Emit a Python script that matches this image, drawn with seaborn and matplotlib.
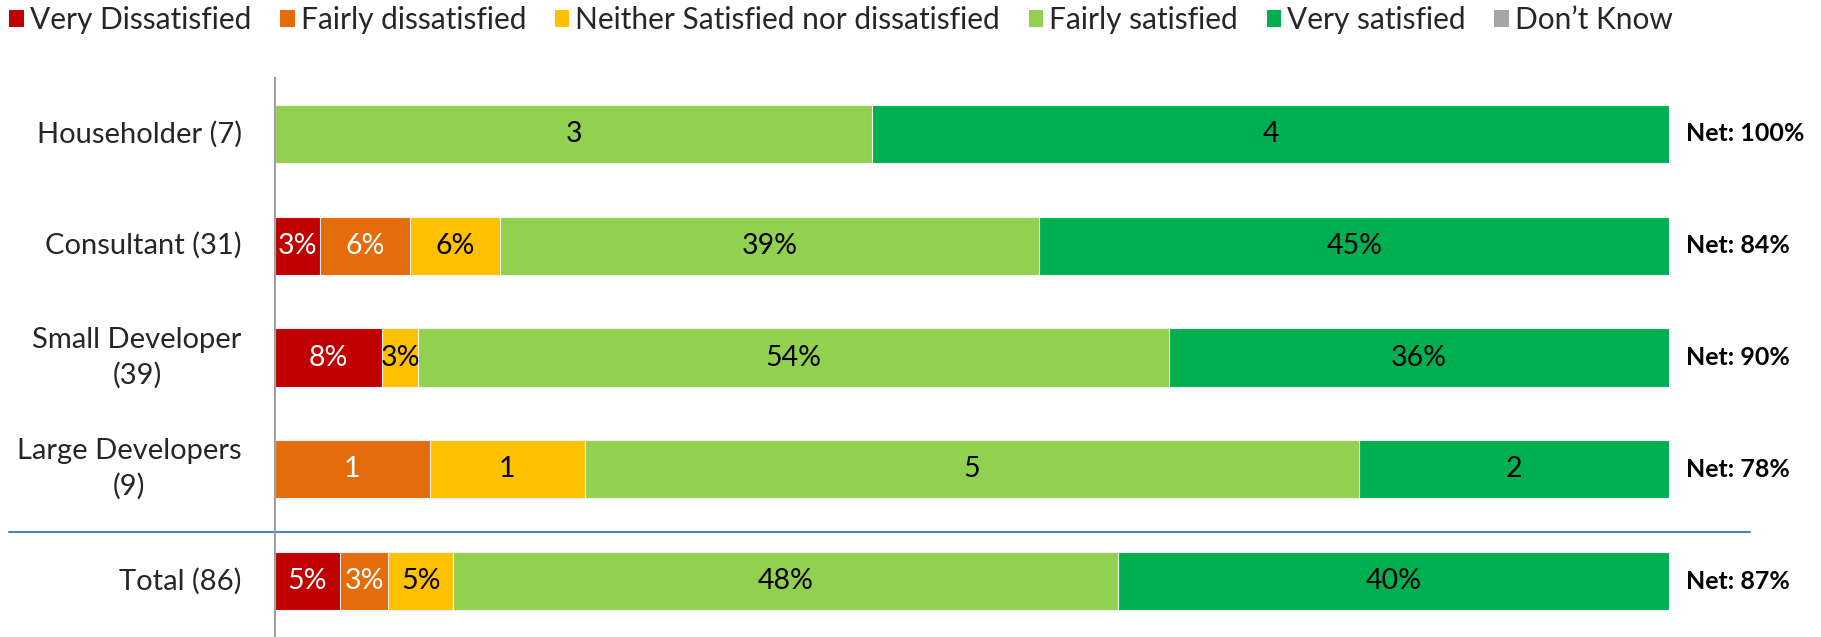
import numpy as np
import pandas as pd
import matplotlib
matplotlib.use("Agg")
import matplotlib.pyplot as plt
from matplotlib.patches import Patch
from matplotlib.transforms import blended_transform_factory
import seaborn as sns

# ---- data (respondent counts) ----
groups = ["Householder (7)", "Consultant (31)", "Small Developer\n(39)",
          "Large Developers\n(9)", "Total (86)"]
categories = ["Very Dissatisfied", "Fairly dissatisfied",
              "Neither Satisfied nor dissatisfied", "Fairly satisfied",
              "Very satisfied", "Don\u2019t Know"]
very_dissatisfied = [0, 1, 3, 0, 4]
fairly_dissatisfied = [0, 2, 0, 1, 3]
neither = [0, 2, 1, 1, 4]
fairly_satisfied = [3, 12, 21, 5, 41]
very_satisfied = [4, 14, 14, 2, 34]
dont_know = [0, 0, 0, 0, 0]
show_counts = [True, False, False, True, False]   # label as counts vs percentages
net_labels = ["Net: 100%", "Net: 84%", "Net: 90%", "Net: 78%", "Net: 87%"]

colors = ["#C00000", "#E46C0A", "#FFC000", "#92D050", "#00B050", "#A6A6A6"]
text_colors = ["white", "white", "black", "black", "black", "black"]

sns.set_theme(style="white")
FONT = ["Lato", "DejaVu Sans"]
plt.rcParams["font.family"] = FONT

counts = np.array([very_dissatisfied, fairly_dissatisfied, neither,
                   fairly_satisfied, very_satisfied, dont_know], dtype=float)
totals = counts.sum(axis=0)
pct = counts / totals * 100
cum = np.cumsum(pct, axis=0)

fig = plt.figure(figsize=(18.21, 6.37), dpi=100)
ax = fig.add_axes([275 / 1821, 0, (1669 - 275) / 1821, 1 - 78 / 637])

bar_h = 0.52
# draw stacked bars as layered cumulative sums (last category first)
for i in range(len(categories) - 1, -1, -1):
    if counts[i].sum() == 0:
        continue
    df = pd.DataFrame({"group": groups, "value": cum[i]})
    sns.barplot(data=df, x="value", y="group", order=groups, orient="h",
                color=colors[i], width=bar_h, saturation=1,
                edgecolor="#F2F2F2", linewidth=0.8, ax=ax)

# segment labels
for i in range(len(categories)):
    for j in range(len(groups)):
        v = counts[i, j]
        if v == 0:
            continue
        xc = cum[i, j] - pct[i, j] / 2
        lab = f"{int(v)}" if show_counts[j] else f"{pct[i, j]:.0f}%"
        ax.text(xc, j, lab, ha="center", va="center", fontsize=20.5,
                color=text_colors[i])

# net labels
for j, t in enumerate(net_labels):
    ax.text(101.2, j, t, ha="left", va="center", fontsize=18,
            fontweight="bold", color="black", clip_on=False)

ax.set_xlim(0, 100)
ax.set_ylim(4.5, -0.5)
ax.set_xlabel("")
ax.set_ylabel("")
ax.set_xticks([])
ax.tick_params(axis="y", length=0, pad=24, labelsize=21)
for lbl in ax.get_yticklabels():
    lbl.set_multialignment("center")
    lbl.set_linespacing(1.4)
    lbl.set_verticalalignment("center")
for s in ["top", "right", "bottom"]:
    ax.spines[s].set_visible(False)
ax.spines["left"].set_color("#A0A0A0")
ax.spines["left"].set_linewidth(1.5)

# separator line above the total row (spans beyond the axes)
tr = blended_transform_factory(fig.transFigure, ax.transData)
ax.plot([9 / 1821, 1750 / 1821], [3.56, 3.56], transform=tr,
        color="#4F81BD", linewidth=1.5, clip_on=False)

handles = [Patch(facecolor=c, edgecolor="none") for c in colors]
fig.legend(handles, categories, loc="center left", bbox_to_anchor=(0.005, 0.968),
           ncol=6, frameon=False, fontsize=21.5, handlelength=0.5,
           handleheight=0.5, handletextpad=0.2, columnspacing=0.95,
           borderaxespad=0, borderpad=0)

fig.savefig("out.png", dpi=100)
